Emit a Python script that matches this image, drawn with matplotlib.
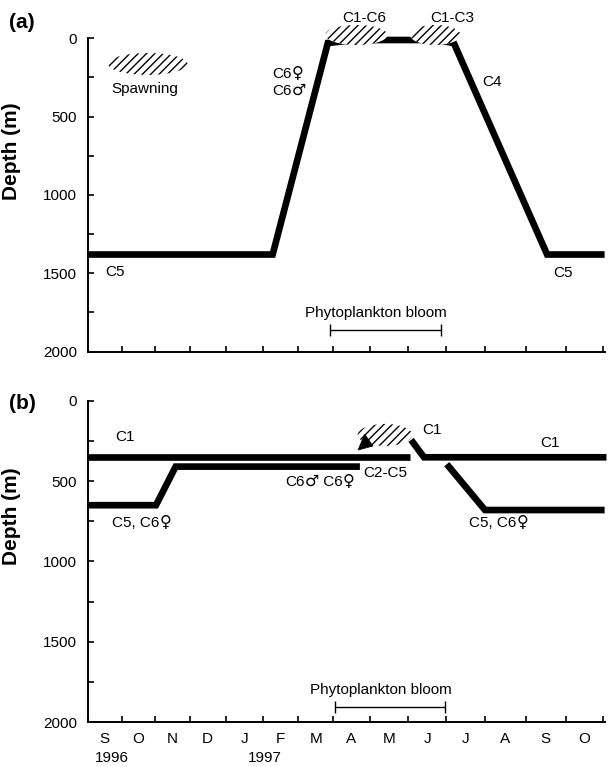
import matplotlib
matplotlib.use("Agg")
import numpy as np
import matplotlib.pyplot as plt
from matplotlib.patches import Ellipse, Polygon
from matplotlib.ticker import FixedLocator, NullFormatter
from matplotlib.offsetbox import TextArea, HPacker, AnnotationBbox

plt.rcParams['font.family'] = ['Liberation Sans', 'DejaVu Sans']
plt.rcParams['hatch.linewidth'] = 1.0

# x = months since 1 Sep 1996 (month boundaries are hand-drawn, not evenly spaced)
months = ['S', 'O', 'N', 'D', 'J', 'F', 'M', 'A', 'M', 'J', 'J', 'A', 'S', 'O']
month_edges = [0, 0.92, 1.82, 2.76, 3.75, 4.76, 5.72, 6.66, 7.66, 8.70,
               9.73, 10.79, 11.90, 12.99, 13.99]
years = ['1996', '1997']
year_pos = [0.7, 5.05]

# panel (a): seasonal migration, y = depth (m)
a_x = [0, 5.27, 6.85, 7.6, 9.7, 10.2, 12.53, 14.05]
a_depth = [1380, 1380, 30, 11, 11, 30, 1380, 1380]
# hatched areas: (x centre, depth centre, width in months, height in m)
a_spawn = (1.77, 164, 2.35, 140)
a_c1c6 = (7.62, -21, 1.68, 128)
a_c1c3 = (9.71, -21, 1.32, 128)
a_bloom = (6.9, 9.87, 1863)

# panel (b)
b_c1_left_x = [0, 9.05]
b_c1_left_d = [352, 352]
b_c1_right_x = [9.08, 9.42, 14.1]
b_c1_right_d = [244, 352, 352]
b_c6_x = [0, 2.03, 2.6, 7.73]
b_c6_d = [650, 650, 410, 410]
b_c5_x = [10.02, 11.0, 14.05]
b_c5_d = [395, 680, 680]
b_hatch = (8.39, 213, 1.44, 137)
b_arrow_x = [7.68, 7.86, 8.08]
b_arrow_d = [307, 207, 282]
b_bloom = (7.05, 9.97, 1905)

LW = 4.8
FS = 11
SYMBOLS = '\u2640\u2642'


def mx(v):
    """month index -> axis position"""
    v = np.asarray(v, dtype=float)
    return np.interp(v, range(15), month_edges) + np.where(v > 14, v - 14, 0)


def hatched(ax, spec):
    x, d, w, h = spec
    x0, x1 = mx(x - w / 2), mx(x + w / 2)
    e = Ellipse(((x0 + x1) / 2, d), x1 - x0, h, facecolor='white', edgecolor='black',
                linewidth=0, hatch='////', zorder=4, clip_on=False)
    ax.add_patch(e)


def bloom(ax, spec):
    x0, x1, d = mx(spec[0]), mx(spec[1]), spec[2]
    ax.errorbar([(x0 + x1) / 2], [d], xerr=[(x1 - x0) / 2], fmt='none',
                ecolor='black', elinewidth=1.0, capsize=4, capthick=1.0)
    ax.text((x0 + x1) / 2 - 0.25, d - 65, 'Phytoplankton bloom', ha='center',
            va='bottom', fontsize=FS)


def label(ax, x, d, s, ha='center'):
    if not any(c in s for c in SYMBOLS):
        ax.text(mx(x), d, s, ha=ha, va='center', fontsize=FS)
        return
    # sex symbols drawn a little larger, as in the printed figure
    parts, buf = [], ''
    for c in s:
        if c in SYMBOLS:
            if buf:
                parts.append(TextArea(buf, textprops=dict(fontsize=FS)))
                buf = ''
            parts.append(TextArea(c, textprops=dict(fontsize=FS + 0.5,
                                                    family='DejaVu Sans')))
        else:
            buf += c
    if buf:
        parts.append(TextArea(buf, textprops=dict(fontsize=FS)))
    box = HPacker(children=parts, align='baseline', pad=0, sep=0)
    bx = {'left': 0, 'center': 0.5, 'right': 1}[ha]
    ab = AnnotationBbox(box, (mx(x), d), xycoords='data', box_alignment=(bx, 0.45),
                        frameon=False, pad=0, annotation_clip=False)
    ax.add_artist(ab)


def style(ax):
    ax.set_xlim(0, 14.05)
    ax.set_ylim(2000, 0)
    for s in ('top', 'right'):
        ax.spines[s].set_visible(False)
    for s in ('left', 'bottom'):
        ax.spines[s].set_linewidth(1.4)
    ax.set_yticks([0, 500, 1000, 1500, 2000])
    ax.yaxis.set_minor_locator(FixedLocator([250, 750, 1250, 1750]))
    ax.set_xticks(month_edges)
    ax.tick_params(axis='both', which='both', direction='in', length=4, width=1.2,
                   labelsize=FS)
    ax.tick_params(axis='y', pad=8)
    ax.set_ylabel('Depth (m)', fontsize=15, fontweight='bold')
    ax.yaxis.set_label_coords(-0.13, 0.64)


def thick(ax, x, d):
    ax.plot(mx(x), d, color='black', lw=LW, solid_joinstyle='miter',
            solid_capstyle='butt', zorder=3, clip_on=False)


fig = plt.figure(figsize=(6.15, 7.67), dpi=100)
ax1 = fig.add_axes([0.143, 0.5415, 0.8407, 0.4086])
ax2 = fig.add_axes([0.143, 0.0583, 0.8407, 0.4193])

# ---- panel (a)
style(ax1)
ax1.xaxis.set_major_formatter(NullFormatter())
thick(ax1, a_x, a_depth)
for spec in (a_spawn, a_c1c6, a_c1c3):
    hatched(ax1, spec)
label(ax1, a_spawn[0] - 0.09, 324, 'Spawning')
label(ax1, 5.25, 232, 'C6\u2640', ha='left')
label(ax1, 5.25, 335, 'C6\u2642', ha='left')
label(ax1, 0.79, 1491, 'C5')
label(ax1, 7.84, -130, 'C1-C6')
label(ax1, 10.15, -130, 'C1-C3')
label(ax1, 10.92, 279, 'C4', ha='left')
label(ax1, 12.93, 1498, 'C5')
bloom(ax1, a_bloom)

# ---- panel (b)
style(ax2)
ax2.xaxis.set_major_formatter(NullFormatter())
mids = [(month_edges[i] + month_edges[i + 1]) / 2 for i in range(len(months))]
ax2.xaxis.set_minor_locator(FixedLocator(mids))
ax2.set_xticklabels(months, minor=True)
ax2.tick_params(axis='x', which='minor', length=0, pad=7)
thick(ax2, b_c1_left_x, b_c1_left_d)
thick(ax2, b_c1_right_x, b_c1_right_d)
thick(ax2, b_c6_x, b_c6_d)
thick(ax2, b_c5_x, b_c5_d)
hatched(ax2, b_hatch)
ax2.add_patch(Polygon(list(zip(mx(b_arrow_x), b_arrow_d)), closed=True,
                      facecolor='black', edgecolor='black', lw=0.5, zorder=5))
label(ax2, 1.09, 226, 'C1')
label(ax2, 1.61, 760, 'C5, C6\u2640')
label(ax2, 7.59, 506, 'C6\u2642 C6\u2640', ha='right')
label(ax2, 7.81, 450, 'C2-C5', ha='left')
label(ax2, 9.63, 182, 'C1')
label(ax2, 12.6, 263, 'C1')
label(ax2, 11.34, 765, 'C5, C6\u2640')
bloom(ax2, b_bloom)
for yr, xp in zip(years, year_pos):
    ax2.text(mx(xp), -0.111, yr, transform=ax2.get_xaxis_transform(), ha='center',
             va='center', fontsize=FS)

fig.text(22 / 615, 1 - 22 / 767, '(a)', ha='center', va='center', fontsize=15,
         fontweight='bold')
fig.text(22 / 615, 1 - 403 / 767, '(b)', ha='center', va='center', fontsize=15,
         fontweight='bold')

fig.savefig('out.png', dpi=100)
